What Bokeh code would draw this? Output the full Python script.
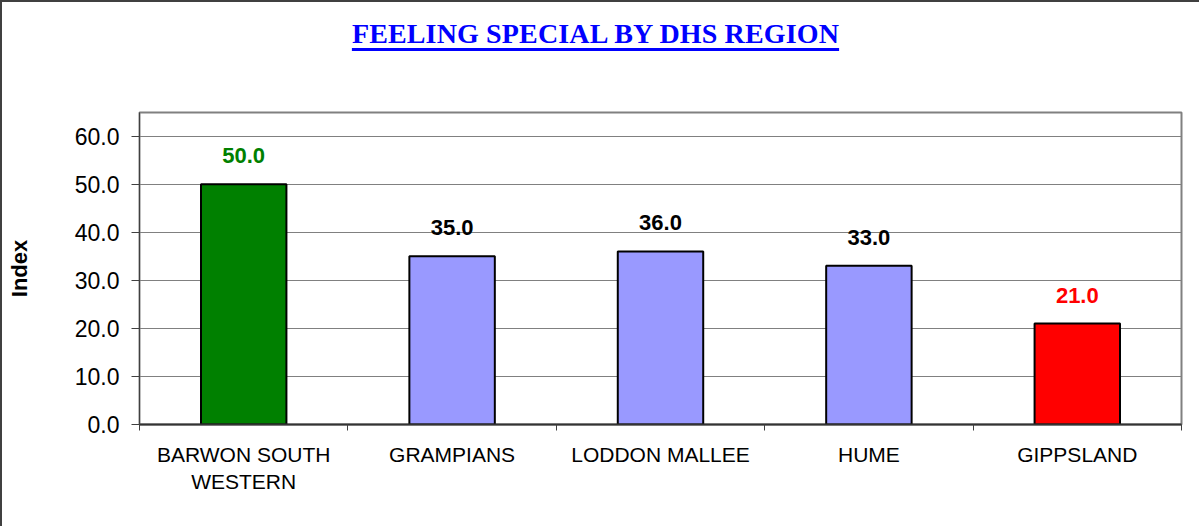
from bokeh.plotting import figure
from bokeh.models import (ColumnDataSource, Range1d, FixedTicker, LabelSet,
                          NumeralTickFormatter, Div)
from bokeh.layouts import column
from bokeh.core.properties import value
from bokeh.embed import file_html
from bokeh.resources import INLINE

title_text = "FEELING SPECIAL BY DHS REGION"
categories = ["BARWON SOUTH\nWESTERN", "GRAMPIANS", "LODDON MALLEE", "HUME", "GIPPSLAND"]
values = [50.0, 35.0, 36.0, 33.0, 21.0]
bar_colors = ["#008000", "#9999FF", "#9999FF", "#9999FF", "#FF0000"]
label_colors = ["#008000", "#000000", "#000000", "#000000", "#FF0000"]
y_ticks = [0, 10, 20, 30, 40, 50, 60]

xs = [i + 0.5 for i in range(len(categories))]
src = ColumnDataSource(dict(
    x=xs, top=values, color=bar_colors, lcolor=label_colors,
    text=[f"{v:.1f}" for v in values],
))

title = Div(
    text=('<div style="width:1177px; text-align:center; padding-top:7px;">'
          '<span style="font-family:\'Liberation Serif\'; font-weight:bold; font-size:28px; '
          'letter-spacing:0.15px; color:#0000FF; text-decoration:underline; '
          'text-decoration-thickness:3px; text-underline-offset:5px;">'
          + title_text + '</span></div>'),
    width=1187, height=50)

p = figure(width=1187, height=464, output_backend="svg", toolbar_location=None,
           title_location=None,
           x_range=Range1d(0, len(categories)), y_range=Range1d(0, 64.9),
           min_border_left=137, min_border_right=8, min_border_top=50,
           min_border_bottom=102)

p.vbar(x="x", top="top", bottom=0, width=0.41, fill_color="color",
       line_color="#000000", line_width=2, source=src)

p.add_layout(LabelSet(x="x", y="top", text="text", source=src,
                      text_color="lcolor", text_align="center",
                      text_baseline="bottom", y_offset=21,
                      text_font=value("Liberation Sans"), text_font_style="bold",
                      text_font_size="22px"))

p.outline_line_color = "#808080"
p.outline_line_width = 2
p.xgrid.visible = False
p.ygrid.ticker = FixedTicker(ticks=y_ticks)
p.ygrid.grid_line_color = "#808080"
p.ygrid.grid_line_width = 1

yax = p.yaxis[0]
yax.ticker = FixedTicker(ticks=y_ticks)
yax.formatter = NumeralTickFormatter(format="0.0")
yax.axis_label = "Index"
yax.axis_label_text_font = "Liberation Sans"
yax.axis_label_text_font_style = "bold"
yax.axis_label_text_font_size = "22px"
yax.axis_label_text_color = "#000000"
yax.axis_label_standoff = 40
yax.major_label_text_font = "Liberation Sans"
yax.major_label_text_font_size = "23px"
yax.major_label_text_color = "#000000"
yax.major_tick_out = 8
yax.major_tick_in = 0
yax.minor_tick_line_color = None
yax.major_tick_line_color = "#404040"
yax.axis_line_color = "#404040"
yax.major_label_standoff = 12

xax = p.xaxis[0]
xax.ticker = FixedTicker(ticks=xs, minor_ticks=list(range(len(categories) + 1)))
xax.major_label_overrides = {x: c for x, c in zip(xs, categories)}
xax.major_tick_line_color = None
xax.major_tick_out = 0
xax.minor_tick_out = 6
xax.minor_tick_in = 0
xax.minor_tick_line_color = "#404040"
xax.axis_line_color = "#333333"
xax.axis_line_width = 2
xax.major_label_text_font = "Liberation Sans"
xax.major_label_text_font_size = "21px"
xax.major_label_text_color = "#000000"
xax.major_label_standoff = 12

layout = column(title, p, spacing=0)
layout.styles = {"border-top": "2px solid #404040", "border-left": "2px solid #404040"}

open("out.html", "w").write(file_html(layout, INLINE))
